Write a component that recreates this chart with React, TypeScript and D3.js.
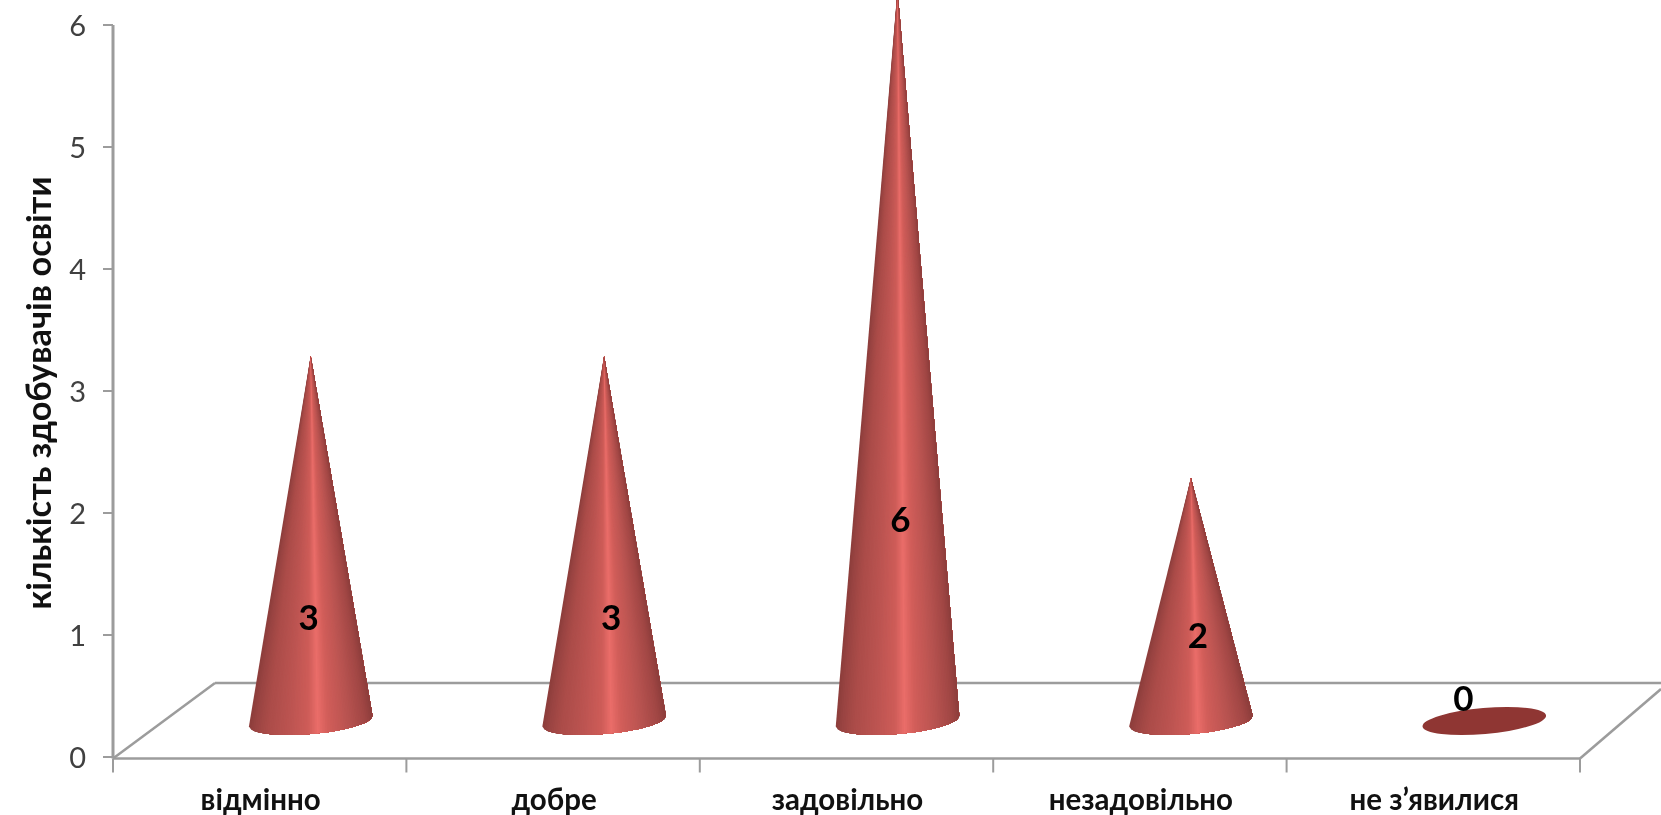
import React from "react";
import * as d3 from "d3";

const categories = ["відмінно", "добре", "задовільно", "незадовільно", "не з’явилися"];
const values = [3, 3, 6, 2, 0];
const yTicks = [0, 1, 2, 3, 4, 5, 6];
const yTitle = "кількість здобувачів освіти";

// layout only
const W = 1661, H = 815;
const depthX = 51, depthY = -36;
const baseRx = 62, baseRy = 13, baseTilt = -5;
const labelNudge = [{ dx: -2, y: 616 }, { dx: 7, y: 616 }, { dx: 3, y: 518 }, { dx: 7, y: 634 }, { dx: -21, y: 697 }];
const FONT = "Lato, 'Open Sans', 'Noto Sans', sans-serif";
const AXIS = "#9c9c9c";
const SLICES = d3.range(72);

const x = d3.scaleBand<string>().domain(categories).range([113, 1580]);
const y = d3.scaleLinear().domain([0, 6]).range([757, 25]);
const shade = d3
  .scaleLinear<string>()
  .domain([0, 0.05, 0.14, 0.32, 0.47, 0.55, 0.63, 0.8, 0.94, 1])
  .range(["#8c3d3b", "#9a4442", "#ab4c49", "#bc5451", "#ce5c58", "#ea6d69", "#d25e5a", "#b85350", "#a04644", "#8c3d3b"]);

const line = d3.line<[number, number]>();

function basePoint(cx: number, cy: number, u: number): [number, number] {
  // point on the front half of the tilted base ellipse, u = 0 left .. 1 right
  const t = (baseTilt * Math.PI) / 180;
  const c = 1 - 2 * u;
  const ex = -c * baseRx;
  const ey = Math.sqrt(Math.max(0, 1 - c * c)) * baseRy;
  return [cx + ex * Math.cos(t) - ey * Math.sin(t), cy + ex * Math.sin(t) + ey * Math.cos(t)];
}

function Cone({ cx, cy, apexY }: { cx: number; cy: number; apexY: number }) {
  const n = SLICES.length;
  // Each slice is a fan from the apex to the right-hand edge, painted over the last,
  // so neighbouring slices never leave an antialiased seam.
  return (
    <g>
      {SLICES.map((i) => {
        const arc = d3.range(i, n + 1).map((k) => basePoint(cx, cy, k / n));
        const d = line([[cx, apexY], ...arc]) + "Z";
        return <path key={i} d={d} fill={shade((i + 0.5) / n)} />;
      })}
    </g>
  );
}

export default function App() {
  const frontY = y(0) + 1.5;
  const backY = 683;
  const bandEdges = [...categories.map((c) => x(c) as number), 1580];
  return (
    <svg width={W} height={H} viewBox={`0 0 ${W} ${H}`} style={{ position: "absolute", left: 0, top: 0, background: "#fff", filter: "blur(0.6px)" }}>
      {/* floor */}
      <g stroke={AXIS} strokeWidth={2.5} fill="none">
        <line x1={113} y1={frontY} x2={215} y2={backY} />
        <line x1={215} y1={backY} x2={W} y2={backY} />
        <line x1={1580} y1={frontY} x2={W} y2={689} />
        <line x1={113} y1={frontY} x2={1580} y2={frontY} />
        <line x1={113} y1={y(6)} x2={113} y2={frontY} strokeWidth={3} />
        {yTicks.map((t) => (
          <line key={t} x1={103} x2={113} y1={y(t)} y2={y(t)} strokeWidth={2} />
        ))}
        {bandEdges.map((e) => (
          <line key={e} x1={e} x2={e} y1={frontY} y2={frontY + 14} strokeWidth={2} />
        ))}
      </g>

      {/* cones */}
      {categories.map((c, i) => {
        const cx = (x(c) as number) + x.bandwidth() / 2 + depthX;
        const cy = y(0) + depthY;
        return values[i] > 0 ? (
          <Cone key={c} cx={cx} cy={cy} apexY={y(values[i]) + depthY + 1} />
        ) : (
          <ellipse key={c} cx={cx} cy={cy} rx={baseRx} ry={baseRy} fill="#8f3633" transform={`rotate(${baseTilt} ${cx} ${cy})`} />
        );
      })}

      {/* value labels */}
      {categories.map((c, i) => (
        <text key={c} x={(x(c) as number) + x.bandwidth() / 2 + depthX + labelNudge[i].dx} y={labelNudge[i].y}
          textAnchor="middle" dominantBaseline="central" fontFamily={FONT} fontWeight={700} fontSize={35} fill="#000">
          {values[i]}
        </text>
      ))}

      {/* y tick labels */}
      {yTicks.map((t) => (
        <text key={t} x={86} y={y(t) - 1} textAnchor="end" dominantBaseline="central" fontFamily={FONT} fontSize={29} fill="#404040">
          {t}
        </text>
      ))}

      {/* category labels */}
      {categories.map((c) => (
        <text key={c} x={(x(c) as number) + x.bandwidth() / 2 + 1} y={798} textAnchor="middle" dominantBaseline="central"
          fontFamily={FONT} fontWeight={700} fontSize={29.5} fill="#111">
          {c}
        </text>
      ))}

      <text transform="translate(37,393) rotate(-90)" textAnchor="middle" dominantBaseline="central"
        fontFamily={FONT} fontWeight={700} fontSize={34.4} fill="#111">
        {yTitle}
      </text>
    </svg>
  );
}
